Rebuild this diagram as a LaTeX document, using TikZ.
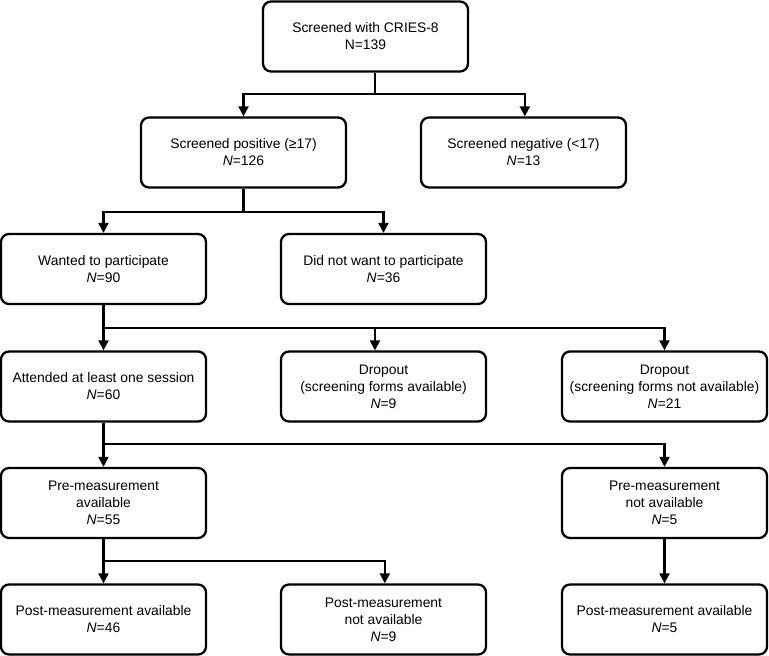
\documentclass[tikz,border=0pt]{standalone}
\usepackage{fontspec}
\setmainfont{Liberation Sans}
\usetikzlibrary{arrows.meta}

\tikzset{
  flowbox/.style={draw, line width=1.7pt, rounded corners=6pt, minimum width=153.75pt,
    minimum height=52.5pt, inner sep=0pt, align=center,
    font=\fontsize{10.4pt}{12.7pt}\selectfont},
  flowline/.style={line width=1.6pt},
  flowarrow/.style={line width=1.6pt, -{Triangle[length=7.5pt,width=7.5pt]}}
}

\begin{document}
\begin{tikzpicture}[x=0.75pt,y=0.75pt,yscale=-1,xscale=1]
    \useasboundingbox (0,0) rectangle (769,656);
    %Shape: Rounded Rect [id:screened]
    \node [flowbox] (screened) at (365.5,36.5) {Screened with CRIES-8\\N=139};
    %Shape: Rounded Rect [id:positive]
    \node [flowbox] (positive) at (243.5,152.5) {Screened positive (≥17)\\\textit{N}=126};
    %Shape: Rounded Rect [id:negative]
    \node [flowbox] (negative) at (523.5,152.5) {Screened negative (<17)\\\textit{N}=13};
    %Shape: Rounded Rect [id:wanted]
    \node [flowbox] (wanted) at (103.5,269) {Wanted to participate\\\textit{N}=90};
    %Shape: Rounded Rect [id:notwanted]
    \node [flowbox] (notwanted) at (383.5,269) {Did not want to participate\\\textit{N}=36};
    %Shape: Rounded Rect [id:attended]
    \node [flowbox] (attended) at (103.5,386.5) {Attended at least one session\\\textit{N}=60};
    %Shape: Rounded Rect [id:dropavail]
    \node [flowbox] (dropavail) at (383.5,386.5) {Dropout\\(screening forms available)\\\textit{N}=9};
    %Shape: Rounded Rect [id:dropnotavail]
    \node [flowbox] (dropnotavail) at (664.5,386.5) {Dropout\\(screening forms not available)\\\textit{N}=21};
    %Shape: Rounded Rect [id:preavail]
    \node [flowbox] (preavail) at (103.5,503) {Pre-measurement\\available\\\textit{N}=55};
    %Shape: Rounded Rect [id:prenotavail]
    \node [flowbox] (prenotavail) at (664.5,503) {Pre-measurement\\not available\\\textit{N}=5};
    %Shape: Rounded Rect [id:postavail]
    \node [flowbox] (postavail) at (103.5,619.5) {Post-measurement available\\\textit{N}=46};
    %Shape: Rounded Rect [id:postnotavail]
    \node [flowbox] (postnotavail) at (383.5,619.5) {Post-measurement\\not available\\\textit{N}=9};
    %Shape: Rounded Rect [id:postavailb]
    \node [flowbox] (postavailb) at (664.5,619.5) {Post-measurement available\\\textit{N}=5};

    %Straight Lines [id:split1]
    \coordinate (split1) at (375,94);
    \draw [flowline] (screened.south -| split1) -- (split1);
    \draw [flowarrow] (split1) -| (positive.north);
    \draw [flowarrow] (split1) -| ([xshift=1pt]negative.north);
    %Straight Lines [id:split2]
    \coordinate (split2) at (243.5,212);
    \draw [flowline] (positive.south) -- (split2);
    \draw [flowarrow] (split2) -| (wanted.north);
    \draw [flowarrow] (split2) -| (notwanted.north);
    %Straight Lines [id:split3]
    \coordinate (split3) at (103.5,328);
    \draw [flowarrow] (wanted.south) -- (attended.north);
    \draw [flowarrow] (split3) -| ([xshift=-6.4pt]dropavail.north);
    \draw [flowarrow] (split3) -| (dropnotavail.north);
    %Straight Lines [id:split4]
    \coordinate (split4) at (103.5,444);
    \draw [flowarrow] (attended.south) -- (preavail.north);
    \draw [flowarrow] (split4) -| (prenotavail.north);
    %Straight Lines [id:split5]
    \coordinate (split5) at (103.5,561);
    \draw [flowarrow] (preavail.south) -- (postavail.north);
    \draw [flowarrow] (split5) -| ([xshift=1pt]postnotavail.north);
    %Straight Lines [id:prenot]
    \draw [flowarrow] (prenotavail.south) -- (postavailb.north);
\end{tikzpicture}
\end{document}
